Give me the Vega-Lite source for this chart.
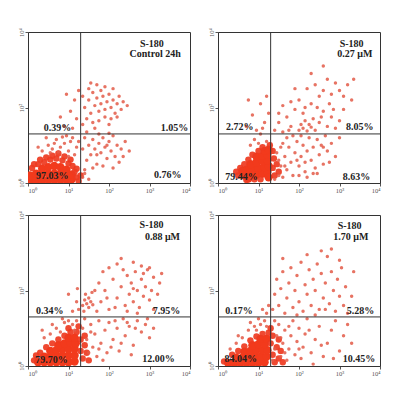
{
  "$schema": "https://vega.github.io/schema/vega-lite/v6.json",
  "background": "white",
  "padding": {"left": 17, "top": 27, "right": 5, "bottom": 5},
  "data": {"values": [
    {"p":1,"k":"h","x":3.06,"y":3.68,"txt":"S-180"},
    {"p":1,"k":"h","x":3.14,"y":3.41,"txt":"Control 24h"},
    {"p":1,"k":"t","x":0.73,"y":1.47,"txt":"0.39%"},
    {"p":1,"k":"t","x":3.62,"y":1.45,"txt":"1.05%"},
    {"p":1,"k":"t","x":3.45,"y":0.2,"txt":"0.76%"},
    {"p":1,"k":"t","x":0.6,"y":0.18,"txt":"97.03%"},
    {"p":1,"k":"c","x":0.05,"y":0.08},{"p":1,"k":"c","x":0.05,"y":0.2},{"p":1,"k":"c","x":0.2,"y":0.08},{"p":1,"k":"c","x":0.2,"y":0.25},
    {"p":1,"k":"c","x":0.35,"y":0.08},{"p":1,"k":"c","x":0.35,"y":0.25},{"p":1,"k":"c","x":0.35,"y":0.38},{"p":1,"k":"c","x":0.5,"y":0.08},
    {"p":1,"k":"c","x":0.5,"y":0.25},{"p":1,"k":"c","x":0.5,"y":0.42},{"p":1,"k":"c","x":0.65,"y":0.08},{"p":1,"k":"c","x":0.65,"y":0.25},
    {"p":1,"k":"c","x":0.65,"y":0.45},{"p":1,"k":"c","x":0.8,"y":0.08},{"p":1,"k":"c","x":0.8,"y":0.25},{"p":1,"k":"c","x":0.8,"y":0.42},
    {"p":1,"k":"c","x":0.95,"y":0.08},{"p":1,"k":"c","x":0.95,"y":0.25},{"p":1,"k":"c","x":0.95,"y":0.35},{"p":1,"k":"c","x":1.08,"y":0.1},
    {"p":1,"k":"c","x":1.08,"y":0.22},
    {"p":1,"k":"m","x":0.1,"y":0.4},{"p":1,"k":"m","x":0.25,"y":0.5},{"p":1,"k":"m","x":0.4,"y":0.55},{"p":1,"k":"m","x":0.55,"y":0.62},
    {"p":1,"k":"m","x":0.7,"y":0.65},{"p":1,"k":"m","x":0.85,"y":0.6},{"p":1,"k":"m","x":1.0,"y":0.52},{"p":1,"k":"m","x":1.1,"y":0.45},
    {"p":1,"k":"m","x":1.15,"y":0.3},{"p":1,"k":"m","x":1.2,"y":0.15},{"p":1,"k":"m","x":1.25,"y":0.05},{"p":1,"k":"m","x":0.6,"y":0.72},
    {"p":1,"k":"m","x":0.9,"y":0.7},{"p":1,"k":"m","x":0.3,"y":0.62},{"p":1,"k":"m","x":1.05,"y":0.62},{"p":1,"k":"m","x":0.45,"y":0.68},
    {"p":1,"k":"m","x":1.2,"y":0.38},{"p":1,"k":"m","x":0.15,"y":0.5},{"p":1,"k":"m","x":0.75,"y":0.78},{"p":1,"k":"m","x":1.3,"y":0.2},
    {"p":1,"k":"s","x":0.35,"y":0.85},{"p":1,"k":"s","x":0.5,"y":1.0},{"p":1,"k":"s","x":0.6,"y":0.9},{"p":1,"k":"s","x":0.7,"y":1.15},
    {"p":1,"k":"s","x":0.8,"y":0.95},{"p":1,"k":"s","x":0.9,"y":1.05},{"p":1,"k":"s","x":1.0,"y":0.85},{"p":1,"k":"s","x":1.1,"y":1.2},
    {"p":1,"k":"s","x":1.2,"y":0.95},{"p":1,"k":"s","x":0.45,"y":1.2},{"p":1,"k":"s","x":0.75,"y":0.82},{"p":1,"k":"s","x":1.05,"y":1.1},
    {"p":1,"k":"s","x":0.25,"y":0.95},{"p":1,"k":"s","x":0.95,"y":1.25},{"p":1,"k":"s","x":1.15,"y":0.75},{"p":1,"k":"s","x":0.55,"y":0.8},
    {"p":1,"k":"s","x":0.85,"y":1.22},{"p":1,"k":"s","x":1.25,"y":1.1},{"p":1,"k":"s","x":0.65,"y":1.05},{"p":1,"k":"s","x":1.0,"y":0.7},
    {"p":1,"k":"s","x":0.9,"y":1.5},{"p":1,"k":"s","x":1.05,"y":1.9},{"p":1,"k":"s","x":1.15,"y":2.2},{"p":1,"k":"s","x":0.95,"y":2.35},
    {"p":1,"k":"s","x":1.2,"y":1.7},{"p":1,"k":"s","x":0.8,"y":1.75},{"p":1,"k":"s","x":1.25,"y":2.45},{"p":1,"k":"s","x":1.1,"y":1.45},
    {"p":1,"k":"s","x":1.4,"y":2.0},{"p":1,"k":"s","x":1.5,"y":2.2},{"p":1,"k":"s","x":1.55,"y":1.85},{"p":1,"k":"s","x":1.6,"y":2.4},
    {"p":1,"k":"s","x":1.65,"y":2.05},{"p":1,"k":"s","x":1.7,"y":2.25},{"p":1,"k":"s","x":1.75,"y":1.9},{"p":1,"k":"s","x":1.8,"y":2.1},
    {"p":1,"k":"s","x":1.85,"y":2.3},{"p":1,"k":"s","x":1.9,"y":1.95},{"p":1,"k":"s","x":1.95,"y":2.15},{"p":1,"k":"s","x":2.0,"y":2.35},
    {"p":1,"k":"s","x":2.05,"y":2.0},{"p":1,"k":"s","x":2.1,"y":2.2},{"p":1,"k":"s","x":2.15,"y":1.85},{"p":1,"k":"s","x":2.2,"y":2.1},
    {"p":1,"k":"s","x":2.25,"y":2.3},{"p":1,"k":"s","x":2.3,"y":1.95},{"p":1,"k":"s","x":2.35,"y":2.15},{"p":1,"k":"s","x":1.45,"y":1.7},
    {"p":1,"k":"s","x":1.6,"y":1.6},{"p":1,"k":"s","x":1.75,"y":1.65},{"p":1,"k":"s","x":1.9,"y":1.75},{"p":1,"k":"s","x":2.05,"y":1.7},
    {"p":1,"k":"s","x":2.2,"y":1.75},{"p":1,"k":"s","x":1.5,"y":2.5},{"p":1,"k":"s","x":1.7,"y":2.6},{"p":1,"k":"s","x":1.9,"y":2.55},
    {"p":1,"k":"s","x":2.1,"y":2.5},{"p":1,"k":"s","x":1.35,"y":2.3},{"p":1,"k":"s","x":1.35,"y":1.55},{"p":1,"k":"s","x":2.45,"y":2.05},
    {"p":1,"k":"s","x":1.8,"y":2.45},{"p":1,"k":"s","x":2.0,"y":1.55},{"p":1,"k":"s","x":1.65,"y":1.45},{"p":1,"k":"s","x":1.55,"y":2.65},
    {"p":1,"k":"s","x":1.35,"y":0.9},{"p":1,"k":"s","x":1.4,"y":1.2},{"p":1,"k":"s","x":1.45,"y":0.6},{"p":1,"k":"s","x":1.5,"y":1.0},
    {"p":1,"k":"s","x":1.55,"y":0.75},{"p":1,"k":"s","x":1.6,"y":1.15},{"p":1,"k":"s","x":1.65,"y":0.9},{"p":1,"k":"s","x":1.7,"y":0.5},
    {"p":1,"k":"s","x":1.75,"y":1.05},{"p":1,"k":"s","x":1.8,"y":0.8},{"p":1,"k":"s","x":1.85,"y":1.2},{"p":1,"k":"s","x":1.9,"y":0.95},
    {"p":1,"k":"s","x":1.95,"y":0.65},{"p":1,"k":"s","x":2.0,"y":1.1},{"p":1,"k":"s","x":2.05,"y":0.85},{"p":1,"k":"s","x":2.1,"y":1.25},
    {"p":1,"k":"s","x":2.15,"y":0.7},{"p":1,"k":"s","x":2.2,"y":1.0},{"p":1,"k":"s","x":2.25,"y":0.55},{"p":1,"k":"s","x":2.3,"y":0.9},
    {"p":1,"k":"s","x":2.4,"y":1.1},{"p":1,"k":"s","x":1.6,"y":0.4},{"p":1,"k":"s","x":1.85,"y":0.45},{"p":1,"k":"s","x":2.1,"y":0.4},
    {"p":1,"k":"s","x":1.45,"y":1.35},{"p":1,"k":"s","x":1.75,"y":1.3},{"p":1,"k":"s","x":2.0,"y":1.32},{"p":1,"k":"s","x":2.35,"y":0.7},
    {"p":1,"k":"s","x":1.4,"y":0.35},{"p":1,"k":"s","x":1.95,"y":1.0},{"p":1,"k":"s","x":1.7,"y":0.75},{"p":1,"k":"s","x":2.5,"y":0.85},
    {"p":1,"k":"s","x":1.35,"y":0.15},{"p":1,"k":"s","x":1.4,"y":0.25},{"p":1,"k":"s","x":1.5,"y":0.1},

    {"p":2,"k":"h","x":3.3,"y":3.68,"txt":"S-180"},
    {"p":2,"k":"h","x":3.38,"y":3.41,"txt":"0.27 μM"},
    {"p":2,"k":"t","x":0.54,"y":1.48,"txt":"2.72%"},
    {"p":2,"k":"t","x":3.5,"y":1.48,"txt":"8.05%"},
    {"p":2,"k":"t","x":3.42,"y":0.17,"txt":"8.63%"},
    {"p":2,"k":"t","x":0.58,"y":0.17,"txt":"79.44%"},
    {"p":2,"k":"c","x":0.65,"y":0.2},{"p":2,"k":"c","x":0.8,"y":0.2},{"p":2,"k":"c","x":0.95,"y":0.22},{"p":2,"k":"c","x":1.1,"y":0.25},
    {"p":2,"k":"c","x":1.22,"y":0.3},{"p":2,"k":"c","x":0.7,"y":0.35},{"p":2,"k":"c","x":0.85,"y":0.38},{"p":2,"k":"c","x":1.0,"y":0.4},
    {"p":2,"k":"c","x":1.15,"y":0.42},{"p":2,"k":"c","x":1.25,"y":0.45},{"p":2,"k":"c","x":0.8,"y":0.5},{"p":2,"k":"c","x":0.95,"y":0.55},
    {"p":2,"k":"c","x":1.1,"y":0.58},{"p":2,"k":"c","x":1.22,"y":0.6},{"p":2,"k":"c","x":0.95,"y":0.7},{"p":2,"k":"c","x":1.1,"y":0.72},
    {"p":2,"k":"c","x":1.22,"y":0.75},{"p":2,"k":"c","x":1.15,"y":0.85},{"p":2,"k":"c","x":1.25,"y":0.88},{"p":2,"k":"c","x":0.6,"y":0.32},
    {"p":2,"k":"c","x":0.75,"y":0.12},{"p":2,"k":"c","x":1.25,"y":0.15},
    {"p":2,"k":"m","x":0.5,"y":0.2},{"p":2,"k":"m","x":0.55,"y":0.4},{"p":2,"k":"m","x":0.65,"y":0.5},{"p":2,"k":"m","x":0.75,"y":0.62},
    {"p":2,"k":"m","x":0.85,"y":0.75},{"p":2,"k":"m","x":1.0,"y":0.85},{"p":2,"k":"m","x":1.1,"y":0.95},{"p":2,"k":"m","x":1.28,"y":1.0},
    {"p":2,"k":"m","x":0.7,"y":0.08},{"p":2,"k":"m","x":0.9,"y":0.1},{"p":2,"k":"m","x":1.35,"y":0.4},{"p":2,"k":"m","x":1.4,"y":0.2},
    {"p":2,"k":"m","x":1.38,"y":0.65},{"p":2,"k":"m","x":1.45,"y":0.5},{"p":2,"k":"m","x":1.5,"y":0.3},{"p":2,"k":"m","x":1.35,"y":0.85},
    {"p":2,"k":"m","x":0.45,"y":0.3},{"p":2,"k":"m","x":1.05,"y":0.1},
    {"p":2,"k":"s","x":1.4,"y":0.1},{"p":2,"k":"s","x":1.5,"y":0.2},{"p":2,"k":"s","x":1.55,"y":0.45},{"p":2,"k":"s","x":1.6,"y":0.15},
    {"p":2,"k":"s","x":1.65,"y":0.7},{"p":2,"k":"s","x":1.7,"y":0.35},{"p":2,"k":"s","x":1.75,"y":0.95},{"p":2,"k":"s","x":1.8,"y":0.55},
    {"p":2,"k":"s","x":1.85,"y":0.2},{"p":2,"k":"s","x":1.9,"y":0.8},{"p":2,"k":"s","x":1.95,"y":1.1},{"p":2,"k":"s","x":2.0,"y":0.45},
    {"p":2,"k":"s","x":2.05,"y":0.7},{"p":2,"k":"s","x":2.1,"y":1.0},{"p":2,"k":"s","x":2.15,"y":0.3},{"p":2,"k":"s","x":2.2,"y":0.85},
    {"p":2,"k":"s","x":2.25,"y":1.2},{"p":2,"k":"s","x":2.3,"y":0.6},{"p":2,"k":"s","x":2.35,"y":0.95},{"p":2,"k":"s","x":2.4,"y":0.4},
    {"p":2,"k":"s","x":2.45,"y":1.15},{"p":2,"k":"s","x":2.5,"y":0.75},{"p":2,"k":"s","x":2.55,"y":1.0},{"p":2,"k":"s","x":2.6,"y":0.5},
    {"p":2,"k":"s","x":2.65,"y":1.25},{"p":2,"k":"s","x":2.7,"y":0.85},{"p":2,"k":"s","x":2.8,"y":1.05},{"p":2,"k":"s","x":2.9,"y":0.7},
    {"p":2,"k":"s","x":3.0,"y":1.2},{"p":2,"k":"s","x":1.45,"y":0.8},{"p":2,"k":"s","x":1.6,"y":1.05},{"p":2,"k":"s","x":1.7,"y":1.2},
    {"p":2,"k":"s","x":1.85,"y":1.25},{"p":2,"k":"s","x":1.5,"y":0.6},{"p":2,"k":"s","x":2.0,"y":0.2},{"p":2,"k":"s","x":2.2,"y":0.15},
    {"p":2,"k":"s","x":2.45,"y":0.25},{"p":2,"k":"s","x":1.65,"y":0.45},{"p":2,"k":"s","x":1.95,"y":0.6},{"p":2,"k":"s","x":2.15,"y":0.55},
    {"p":2,"k":"s","x":2.35,"y":0.25},{"p":2,"k":"s","x":2.75,"y":0.55},{"p":2,"k":"s","x":1.55,"y":0.95},{"p":2,"k":"s","x":2.05,"y":1.25},
    {"p":2,"k":"s","x":2.6,"y":0.95},
    {"p":2,"k":"s","x":1.4,"y":1.4},{"p":2,"k":"s","x":1.5,"y":1.6},{"p":2,"k":"s","x":1.6,"y":1.35},{"p":2,"k":"s","x":1.7,"y":1.75},
    {"p":2,"k":"s","x":1.8,"y":1.5},{"p":2,"k":"s","x":1.9,"y":1.95},{"p":2,"k":"s","x":2.0,"y":1.4},{"p":2,"k":"s","x":2.05,"y":1.55},
    {"p":2,"k":"s","x":2.1,"y":1.45},{"p":2,"k":"s","x":2.15,"y":1.65},{"p":2,"k":"s","x":2.2,"y":1.38},{"p":2,"k":"s","x":2.25,"y":1.55},
    {"p":2,"k":"s","x":2.3,"y":1.48},{"p":2,"k":"s","x":2.35,"y":1.7},{"p":2,"k":"s","x":2.4,"y":1.4},{"p":2,"k":"s","x":2.5,"y":1.6},
    {"p":2,"k":"s","x":2.6,"y":1.9},{"p":2,"k":"s","x":2.7,"y":1.5},{"p":2,"k":"s","x":2.8,"y":1.75},{"p":2,"k":"s","x":2.9,"y":1.45},
    {"p":2,"k":"s","x":3.0,"y":1.65},{"p":2,"k":"s","x":3.1,"y":1.95},{"p":2,"k":"s","x":2.1,"y":1.85},{"p":2,"k":"s","x":2.3,"y":2.1},
    {"p":2,"k":"s","x":2.5,"y":2.3},{"p":2,"k":"s","x":2.0,"y":2.2},{"p":2,"k":"s","x":2.2,"y":2.5},{"p":2,"k":"s","x":2.4,"y":2.6},
    {"p":2,"k":"s","x":2.6,"y":2.45},{"p":2,"k":"s","x":2.8,"y":2.35},{"p":2,"k":"s","x":3.0,"y":2.45},{"p":2,"k":"s","x":3.2,"y":2.6},
    {"p":2,"k":"s","x":2.9,"y":2.65},{"p":2,"k":"s","x":2.7,"y":2.75},{"p":2,"k":"s","x":1.9,"y":2.5},{"p":2,"k":"s","x":1.8,"y":2.15},
    {"p":2,"k":"s","x":1.6,"y":2.05},{"p":2,"k":"s","x":1.5,"y":1.85},{"p":2,"k":"s","x":2.45,"y":2.0},{"p":2,"k":"s","x":2.75,"y":2.1},
    {"p":2,"k":"s","x":3.3,"y":2.2},{"p":2,"k":"s","x":3.1,"y":2.3},{"p":2,"k":"s","x":2.55,"y":1.75},{"p":2,"k":"s","x":1.75,"y":1.4},
    {"p":2,"k":"s","x":2.85,"y":1.95},{"p":2,"k":"s","x":2.15,"y":2.0},{"p":2,"k":"s","x":3.35,"y":2.75},{"p":2,"k":"s","x":2.6,"y":3.1},
    {"p":2,"k":"s","x":2.3,"y":2.9},
    {"p":2,"k":"s","x":0.7,"y":1.5},{"p":2,"k":"s","x":0.85,"y":1.8},{"p":2,"k":"s","x":0.95,"y":1.4},{"p":2,"k":"s","x":1.05,"y":2.1},
    {"p":2,"k":"s","x":1.15,"y":1.6},{"p":2,"k":"s","x":1.2,"y":2.3},{"p":2,"k":"s","x":1.25,"y":1.85},{"p":2,"k":"s","x":0.9,"y":1.15},
    {"p":2,"k":"s","x":1.05,"y":1.3},{"p":2,"k":"s","x":1.2,"y":1.1},{"p":2,"k":"s","x":0.8,"y":1.0},{"p":2,"k":"s","x":1.0,"y":1.05},
    {"p":2,"k":"s","x":0.75,"y":2.2},{"p":2,"k":"s","x":1.1,"y":1.45},

    {"p":3,"k":"h","x":3.05,"y":3.74,"txt":"S-180"},
    {"p":3,"k":"h","x":3.32,"y":3.43,"txt":"0.88 μM"},
    {"p":3,"k":"t","x":0.54,"y":1.47,"txt":"0.34%"},
    {"p":3,"k":"t","x":3.42,"y":1.47,"txt":"7.95%"},
    {"p":3,"k":"t","x":3.22,"y":0.19,"txt":"12.00%"},
    {"p":3,"k":"t","x":0.58,"y":0.17,"txt":"79.70%"},
    {"p":3,"k":"c","x":0.25,"y":0.1},{"p":3,"k":"c","x":0.4,"y":0.1},{"p":3,"k":"c","x":0.55,"y":0.1},{"p":3,"k":"c","x":0.7,"y":0.1},
    {"p":3,"k":"c","x":0.85,"y":0.1},{"p":3,"k":"c","x":1.0,"y":0.1},{"p":3,"k":"c","x":1.15,"y":0.12},{"p":3,"k":"c","x":0.4,"y":0.25},
    {"p":3,"k":"c","x":0.55,"y":0.25},{"p":3,"k":"c","x":0.7,"y":0.27},{"p":3,"k":"c","x":0.85,"y":0.28},{"p":3,"k":"c","x":1.0,"y":0.28},
    {"p":3,"k":"c","x":1.15,"y":0.28},{"p":3,"k":"c","x":0.55,"y":0.4},{"p":3,"k":"c","x":0.7,"y":0.42},{"p":3,"k":"c","x":0.85,"y":0.45},
    {"p":3,"k":"c","x":1.0,"y":0.45},{"p":3,"k":"c","x":1.15,"y":0.45},{"p":3,"k":"c","x":0.75,"y":0.55},{"p":3,"k":"c","x":0.9,"y":0.6},
    {"p":3,"k":"c","x":1.05,"y":0.62},{"p":3,"k":"c","x":1.18,"y":0.6},{"p":3,"k":"c","x":1.0,"y":0.75},{"p":3,"k":"c","x":1.15,"y":0.75},
    {"p":3,"k":"m","x":0.15,"y":0.15},{"p":3,"k":"m","x":0.3,"y":0.35},{"p":3,"k":"m","x":0.45,"y":0.5},{"p":3,"k":"m","x":0.6,"y":0.6},
    {"p":3,"k":"m","x":0.75,"y":0.7},{"p":3,"k":"m","x":0.9,"y":0.8},{"p":3,"k":"m","x":1.05,"y":0.9},{"p":3,"k":"m","x":1.2,"y":0.9},
    {"p":3,"k":"m","x":1.3,"y":0.7},{"p":3,"k":"m","x":1.3,"y":0.4},{"p":3,"k":"m","x":1.35,"y":0.2},{"p":3,"k":"m","x":1.4,"y":0.55},
    {"p":3,"k":"m","x":1.25,"y":1.05},{"p":3,"k":"m","x":1.45,"y":0.35},{"p":3,"k":"m","x":1.5,"y":0.15},{"p":3,"k":"m","x":1.0,"y":1.0},
    {"p":3,"k":"m","x":0.2,"y":0.28},{"p":3,"k":"m","x":1.4,"y":0.8},
    {"p":3,"k":"s","x":1.35,"y":1.6},{"p":3,"k":"s","x":1.4,"y":1.75},{"p":3,"k":"s","x":1.45,"y":1.65},{"p":3,"k":"s","x":1.5,"y":1.8},
    {"p":3,"k":"s","x":1.5,"y":1.55},{"p":3,"k":"s","x":1.55,"y":1.7},{"p":3,"k":"s","x":1.6,"y":1.62},{"p":3,"k":"s","x":1.42,"y":1.9},
    {"p":3,"k":"s","x":1.58,"y":1.95},{"p":3,"k":"s","x":1.38,"y":1.45},
    {"p":3,"k":"s","x":1.7,"y":1.45},{"p":3,"k":"s","x":1.8,"y":1.7},{"p":3,"k":"s","x":1.9,"y":2.0},{"p":3,"k":"s","x":2.0,"y":1.5},
    {"p":3,"k":"s","x":2.1,"y":2.3},{"p":3,"k":"s","x":2.2,"y":1.8},{"p":3,"k":"s","x":2.3,"y":2.1},{"p":3,"k":"s","x":2.4,"y":1.6},
    {"p":3,"k":"s","x":2.45,"y":2.4},{"p":3,"k":"s","x":2.5,"y":1.9},{"p":3,"k":"s","x":2.55,"y":2.2},{"p":3,"k":"s","x":2.6,"y":1.7},
    {"p":3,"k":"s","x":2.65,"y":2.5},{"p":3,"k":"s","x":2.7,"y":2.0},{"p":3,"k":"s","x":2.75,"y":1.55},{"p":3,"k":"s","x":2.8,"y":2.3},
    {"p":3,"k":"s","x":2.85,"y":1.85},{"p":3,"k":"s","x":2.9,"y":2.1},{"p":3,"k":"s","x":2.95,"y":2.55},{"p":3,"k":"s","x":3.0,"y":1.75},
    {"p":3,"k":"s","x":3.05,"y":2.0},{"p":3,"k":"s","x":3.1,"y":2.35},{"p":3,"k":"s","x":3.2,"y":1.9},{"p":3,"k":"s","x":3.25,"y":2.2},
    {"p":3,"k":"s","x":1.75,"y":2.2},{"p":3,"k":"s","x":1.85,"y":2.5},{"p":3,"k":"s","x":2.0,"y":2.6},{"p":3,"k":"s","x":2.2,"y":2.7},
    {"p":3,"k":"s","x":2.35,"y":2.55},{"p":3,"k":"s","x":2.6,"y":2.75},{"p":3,"k":"s","x":2.8,"y":2.65},{"p":3,"k":"s","x":3.0,"y":2.6},
    {"p":3,"k":"s","x":1.65,"y":2.0},{"p":3,"k":"s","x":2.15,"y":1.55},{"p":3,"k":"s","x":2.45,"y":1.45},{"p":3,"k":"s","x":2.7,"y":1.4},
    {"p":3,"k":"s","x":3.1,"y":1.5},{"p":3,"k":"s","x":1.95,"y":1.8},{"p":3,"k":"s","x":2.6,"y":2.05},{"p":3,"k":"s","x":2.85,"y":2.45},
    {"p":3,"k":"s","x":3.3,"y":2.45},{"p":3,"k":"s","x":2.3,"y":2.85},
    {"p":3,"k":"s","x":1.35,"y":1.0},{"p":3,"k":"s","x":1.45,"y":0.7},{"p":3,"k":"s","x":1.55,"y":1.1},{"p":3,"k":"s","x":1.6,"y":0.5},
    {"p":3,"k":"s","x":1.65,"y":0.85},{"p":3,"k":"s","x":1.7,"y":0.25},{"p":3,"k":"s","x":1.75,"y":1.2},{"p":3,"k":"s","x":1.8,"y":0.6},
    {"p":3,"k":"s","x":1.9,"y":0.95},{"p":3,"k":"s","x":1.95,"y":0.35},{"p":3,"k":"s","x":2.0,"y":1.15},{"p":3,"k":"s","x":2.1,"y":0.7},
    {"p":3,"k":"s","x":2.2,"y":1.0},{"p":3,"k":"s","x":2.25,"y":0.4},{"p":3,"k":"s","x":2.35,"y":1.25},{"p":3,"k":"s","x":2.4,"y":0.8},
    {"p":3,"k":"s","x":2.5,"y":1.05},{"p":3,"k":"s","x":2.6,"y":0.55},{"p":3,"k":"s","x":2.7,"y":1.2},{"p":3,"k":"s","x":2.8,"y":0.9},
    {"p":3,"k":"s","x":2.9,"y":1.1},{"p":3,"k":"s","x":3.0,"y":0.75},{"p":3,"k":"s","x":3.1,"y":1.0},{"p":3,"k":"s","x":1.5,"y":0.35},
    {"p":3,"k":"s","x":1.85,"y":0.15},{"p":3,"k":"s","x":2.05,"y":0.5},{"p":3,"k":"s","x":2.3,"y":0.6},{"p":3,"k":"s","x":2.55,"y":0.3},
    {"p":3,"k":"s","x":1.4,"y":1.25},{"p":3,"k":"s","x":2.65,"y":1.0},{"p":3,"k":"s","x":2.15,"y":1.2},{"p":3,"k":"s","x":1.55,"y":0.9},
    {"p":3,"k":"s","x":1.75,"y":0.45},{"p":3,"k":"s","x":2.45,"y":1.15},{"p":3,"k":"s","x":2.95,"y":1.25},
    {"p":3,"k":"s","x":0.4,"y":0.75},{"p":3,"k":"s","x":0.55,"y":0.85},{"p":3,"k":"s","x":0.7,"y":1.0},{"p":3,"k":"s","x":0.8,"y":0.9},
    {"p":3,"k":"s","x":0.9,"y":1.15},{"p":3,"k":"s","x":1.0,"y":1.2},{"p":3,"k":"s","x":1.1,"y":1.1},{"p":3,"k":"s","x":1.2,"y":1.2},
    {"p":3,"k":"s","x":0.6,"y":1.1},{"p":3,"k":"s","x":0.35,"y":0.95},{"p":3,"k":"s","x":0.85,"y":1.25},{"p":3,"k":"s","x":1.15,"y":0.95},
    {"p":3,"k":"s","x":1.1,"y":1.45},{"p":3,"k":"s","x":1.2,"y":1.7},{"p":3,"k":"s","x":1.25,"y":1.5},{"p":3,"k":"s","x":1.0,"y":1.9},
    {"p":3,"k":"s","x":1.22,"y":2.05},

    {"p":4,"k":"h","x":3.25,"y":3.72,"txt":"S-180"},
    {"p":4,"k":"h","x":3.28,"y":3.41,"txt":"1.70 μM"},
    {"p":4,"k":"t","x":0.52,"y":1.45,"txt":"0.17%"},
    {"p":4,"k":"t","x":3.52,"y":1.45,"txt":"5.28%"},
    {"p":4,"k":"t","x":3.48,"y":0.18,"txt":"10.45%"},
    {"p":4,"k":"t","x":0.56,"y":0.18,"txt":"84.04%"},
    {"p":4,"k":"c","x":0.25,"y":0.08},{"p":4,"k":"c","x":0.4,"y":0.08},{"p":4,"k":"c","x":0.55,"y":0.08},{"p":4,"k":"c","x":0.7,"y":0.08},
    {"p":4,"k":"c","x":0.85,"y":0.08},{"p":4,"k":"c","x":1.0,"y":0.08},{"p":4,"k":"c","x":1.15,"y":0.1},{"p":4,"k":"c","x":0.45,"y":0.22},
    {"p":4,"k":"c","x":0.6,"y":0.22},{"p":4,"k":"c","x":0.75,"y":0.24},{"p":4,"k":"c","x":0.9,"y":0.25},{"p":4,"k":"c","x":1.05,"y":0.25},
    {"p":4,"k":"c","x":1.2,"y":0.25},{"p":4,"k":"c","x":0.65,"y":0.38},{"p":4,"k":"c","x":0.8,"y":0.4},{"p":4,"k":"c","x":0.95,"y":0.42},
    {"p":4,"k":"c","x":1.1,"y":0.42},{"p":4,"k":"c","x":1.22,"y":0.42},{"p":4,"k":"c","x":0.85,"y":0.55},{"p":4,"k":"c","x":1.0,"y":0.58},
    {"p":4,"k":"c","x":1.15,"y":0.58},{"p":4,"k":"c","x":1.05,"y":0.72},{"p":4,"k":"c","x":1.2,"y":0.72},
    {"p":4,"k":"m","x":0.15,"y":0.12},{"p":4,"k":"m","x":0.35,"y":0.3},{"p":4,"k":"m","x":0.5,"y":0.4},{"p":4,"k":"m","x":0.65,"y":0.52},
    {"p":4,"k":"m","x":0.8,"y":0.68},{"p":4,"k":"m","x":0.95,"y":0.78},{"p":4,"k":"m","x":1.1,"y":0.85},{"p":4,"k":"m","x":1.25,"y":0.88},
    {"p":4,"k":"m","x":1.3,"y":0.6},{"p":4,"k":"m","x":1.35,"y":0.3},{"p":4,"k":"m","x":1.4,"y":0.1},{"p":4,"k":"m","x":1.45,"y":0.5},
    {"p":4,"k":"m","x":1.5,"y":0.2},{"p":4,"k":"m","x":1.35,"y":0.8},{"p":4,"k":"m","x":1.55,"y":0.4},{"p":4,"k":"m","x":1.6,"y":0.1},
    {"p":4,"k":"m","x":1.5,"y":0.7},{"p":4,"k":"m","x":1.3,"y":1.0},
    {"p":4,"k":"s","x":1.35,"y":1.5},{"p":4,"k":"s","x":1.4,"y":1.9},{"p":4,"k":"s","x":1.45,"y":2.3},{"p":4,"k":"s","x":1.5,"y":1.6},
    {"p":4,"k":"s","x":1.55,"y":2.05},{"p":4,"k":"s","x":1.6,"y":2.5},{"p":4,"k":"s","x":1.65,"y":1.4},{"p":4,"k":"s","x":1.7,"y":1.8},
    {"p":4,"k":"s","x":1.75,"y":2.2},{"p":4,"k":"s","x":1.8,"y":2.6},{"p":4,"k":"s","x":1.85,"y":1.55},{"p":4,"k":"s","x":1.9,"y":2.0},
    {"p":4,"k":"s","x":1.95,"y":2.4},{"p":4,"k":"s","x":2.0,"y":1.7},{"p":4,"k":"s","x":2.05,"y":2.75},{"p":4,"k":"s","x":2.1,"y":1.45},
    {"p":4,"k":"s","x":2.15,"y":2.15},{"p":4,"k":"s","x":2.2,"y":1.9},{"p":4,"k":"s","x":2.25,"y":2.55},{"p":4,"k":"s","x":2.3,"y":1.6},
    {"p":4,"k":"s","x":2.35,"y":2.3},{"p":4,"k":"s","x":2.4,"y":2.0},{"p":4,"k":"s","x":2.45,"y":2.7},{"p":4,"k":"s","x":2.5,"y":1.5},
    {"p":4,"k":"s","x":2.55,"y":2.45},{"p":4,"k":"s","x":2.6,"y":1.8},{"p":4,"k":"s","x":2.65,"y":2.2},{"p":4,"k":"s","x":2.7,"y":2.9},
    {"p":4,"k":"s","x":2.75,"y":1.65},{"p":4,"k":"s","x":2.8,"y":2.5},{"p":4,"k":"s","x":2.85,"y":2.0},{"p":4,"k":"s","x":2.9,"y":1.45},
    {"p":4,"k":"s","x":2.95,"y":2.3},{"p":4,"k":"s","x":3.0,"y":1.85},{"p":4,"k":"s","x":3.05,"y":2.6},{"p":4,"k":"s","x":3.1,"y":1.6},
    {"p":4,"k":"s","x":3.15,"y":2.1},{"p":4,"k":"s","x":3.2,"y":1.4},{"p":4,"k":"s","x":3.3,"y":1.85},{"p":4,"k":"s","x":3.35,"y":2.5},
    {"p":4,"k":"s","x":2.2,"y":2.95},{"p":4,"k":"s","x":2.55,"y":3.05},{"p":4,"k":"s","x":2.8,"y":3.1},{"p":4,"k":"s","x":1.6,"y":2.85},
    {"p":4,"k":"s","x":2.4,"y":1.35},{"p":4,"k":"s","x":1.95,"y":1.35},{"p":4,"k":"s","x":2.65,"y":1.5},{"p":4,"k":"s","x":3.0,"y":2.8},
    {"p":4,"k":"s","x":1.35,"y":0.15},{"p":4,"k":"s","x":1.4,"y":0.45},{"p":4,"k":"s","x":1.45,"y":0.8},{"p":4,"k":"s","x":1.5,"y":1.1},
    {"p":4,"k":"s","x":1.55,"y":0.25},{"p":4,"k":"s","x":1.6,"y":0.6},{"p":4,"k":"s","x":1.65,"y":0.95},{"p":4,"k":"s","x":1.7,"y":0.15},
    {"p":4,"k":"s","x":1.75,"y":0.45},{"p":4,"k":"s","x":1.8,"y":0.8},{"p":4,"k":"s","x":1.85,"y":1.2},{"p":4,"k":"s","x":1.9,"y":0.3},
    {"p":4,"k":"s","x":1.95,"y":0.65},{"p":4,"k":"s","x":2.0,"y":1.0},{"p":4,"k":"s","x":2.05,"y":0.2},{"p":4,"k":"s","x":2.1,"y":0.5},
    {"p":4,"k":"s","x":2.15,"y":0.85},{"p":4,"k":"s","x":2.2,"y":1.25},{"p":4,"k":"s","x":2.3,"y":0.35},{"p":4,"k":"s","x":2.4,"y":0.7},
    {"p":4,"k":"s","x":2.5,"y":1.05},{"p":4,"k":"s","x":2.6,"y":0.25},{"p":4,"k":"s","x":2.7,"y":0.6},{"p":4,"k":"s","x":2.8,"y":0.95},
    {"p":4,"k":"s","x":2.9,"y":1.2},{"p":4,"k":"s","x":3.0,"y":0.4},{"p":4,"k":"s","x":3.1,"y":0.8},{"p":4,"k":"s","x":3.2,"y":1.1},
    {"p":4,"k":"s","x":1.4,"y":1.2},{"p":4,"k":"s","x":1.75,"y":1.05},{"p":4,"k":"s","x":2.35,"y":0.05},{"p":4,"k":"s","x":2.55,"y":0.55},
    {"p":4,"k":"s","x":2.85,"y":0.2},{"p":4,"k":"s","x":1.65,"y":0.35},{"p":4,"k":"s","x":2.25,"y":0.95},{"p":4,"k":"s","x":1.55,"y":0.75},
    {"p":4,"k":"s","x":2.0,"y":0.45},{"p":4,"k":"s","x":3.3,"y":0.6},
    {"p":4,"k":"s","x":0.3,"y":0.45},{"p":4,"k":"s","x":0.45,"y":0.6},{"p":4,"k":"s","x":0.6,"y":0.75},{"p":4,"k":"s","x":0.75,"y":0.95},
    {"p":4,"k":"s","x":0.9,"y":1.05},{"p":4,"k":"s","x":1.05,"y":1.1},{"p":4,"k":"s","x":1.15,"y":1.2},{"p":4,"k":"s","x":1.2,"y":1.05},
    {"p":4,"k":"s","x":0.5,"y":0.8},{"p":4,"k":"s","x":0.95,"y":0.95},{"p":4,"k":"s","x":1.0,"y":1.25},{"p":4,"k":"s","x":0.8,"y":1.15},
    {"p":4,"k":"s","x":1.2,"y":1.4},{"p":4,"k":"s","x":1.25,"y":1.6},{"p":4,"k":"s","x":1.1,"y":1.5}
  ]},
  "facet": {"field": "p", "type": "ordinal", "header": {"labels": false, "title": null, "labelFontSize": 0, "labelPadding": 0}},
  "columns": 2,
  "spacing": {"row": 16, "column": 16},
  "resolve": {"axis": {"x": "independent", "y": "independent"}},
  "spec": {
    "width": 162,
    "height": 151,
    "layer": [
      {
        "transform": [{"filter": "datum.k === 'c' || datum.k === 'm' || datum.k === 's'"}],
        "mark": {"type": "circle", "clip": true, "strokeWidth": 0},
        "encoding": {
          "x": {"field": "x", "type": "quantitative", "title": null,
            "scale": {"domain": [0, 4], "nice": false, "zero": false},
            "axis": {"values": [0, 1, 2, 3, 4], "labelExpr": "'10' + ['⁰','¹','²','³','⁴'][datum.value]", "labelFontSize": 6.5, "tickSize": 3, "labelPadding": 1}
          },
          "y": {"field": "y", "type": "quantitative", "title": null,
            "scale": {"domain": [0, 4], "nice": false, "zero": false},
            "axis": {"values": [0, 1, 2, 3, 4], "labelExpr": "'10' + ['⁰','¹','²','³','⁴'][datum.value]", "labelFontSize": 6.5, "tickSize": 3, "labelPadding": 1, "labelAngle": -90, "labelAlign": "center", "labelBaseline": "bottom"}
          },
          "size": {"field": "k", "type": "nominal", "legend": null,
            "scale": {"domain": ["c", "m", "s"], "range": [70, 12, 3.5]}},
          "color": {"field": "k", "type": "nominal", "legend": null,
            "scale": {"domain": ["c", "m", "s"], "range": ["#f23a1c", "#ee3a20", "#e35a48"]}},
          "opacity": {"field": "k", "type": "nominal", "legend": null,
            "scale": {"domain": ["c", "m", "s"], "range": [1, 0.85, 0.6]}}
        }
      },
      {
        "transform": [{"filter": "datum.k === 'h' && datum.txt === 'S-180'"}],
        "mark": {"type": "rule", "color": "#333", "strokeWidth": 1},
        "encoding": {"x": {"datum": 1.3}}
      },
      {
        "transform": [{"filter": "datum.k === 'h' && datum.txt === 'S-180'"}],
        "mark": {"type": "rule", "color": "#333", "strokeWidth": 1},
        "encoding": {"y": {"datum": 1.3}}
      },
      {
        "transform": [{"filter": "datum.k === 't' || datum.k === 'h'"}],
        "mark": {"type": "text", "font": "Liberation Serif", "fontWeight": "bold", "fontSize": 10, "color": "#222"},
        "encoding": {
          "x": {"field": "x", "type": "quantitative"},
          "y": {"field": "y", "type": "quantitative"},
          "text": {"field": "txt"}
        }
      }
    ]
  },
  "config": {
    "header": {"labels": false, "title": null, "labelFontSize": 0, "labelPadding": 0},
    "view": {"stroke": "#333", "strokeWidth": 1},
    "axis": {"grid": false, "domainColor": "#333", "tickColor": "#555", "labelColor": "#555", "labelFont": "Liberation Serif"}
  }
}
